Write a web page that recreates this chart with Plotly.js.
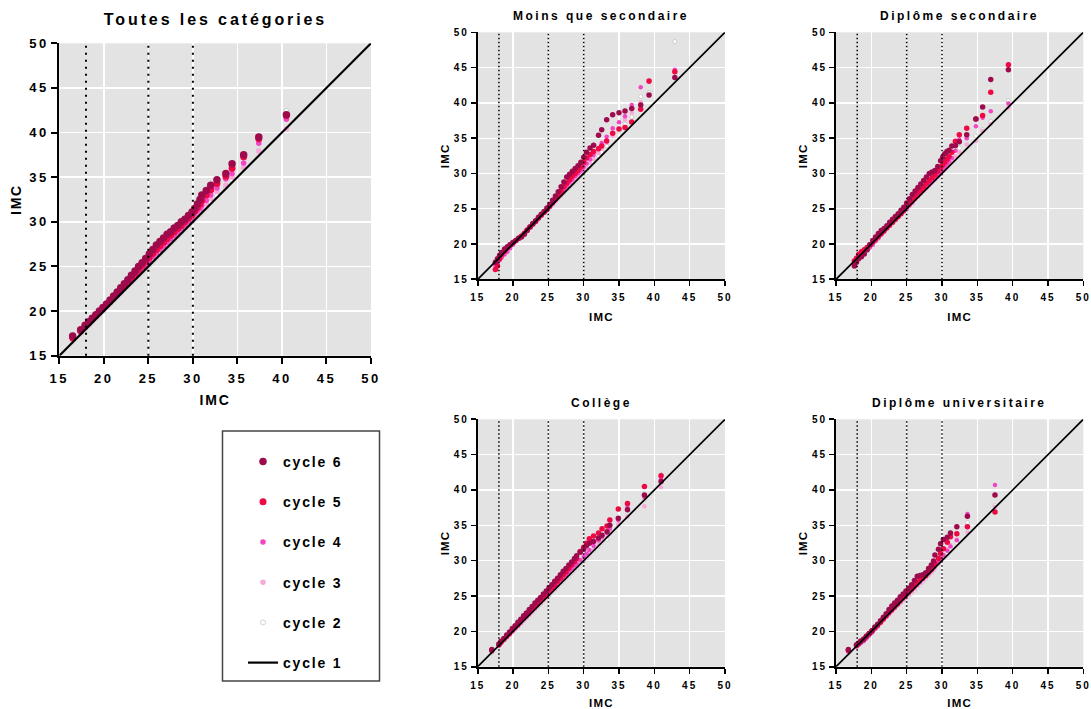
<!DOCTYPE html>
<html>
<head>
<meta charset="utf-8">
<script src="https://cdn.plot.ly/plotly-3.0.1.min.js"></script>
<style>
html, body { margin: 0; padding: 0; background: #ffffff; }
#chart { width: 1091px; height: 709px; }
.xtick text, .ytick text { letter-spacing: 2.5px; }
.x2tick text, .y2tick text, .x3tick text, .y3tick text,
.x4tick text, .y4tick text, .x5tick text, .y5tick text { letter-spacing: 2px; }
text.xtitle, text.ytitle { letter-spacing: 1.8px; }
text.x2title, text.y2title, text.x3title, text.y3title,
text.x4title, text.y4title, text.x5title, text.y5title { letter-spacing: 1.2px; }
text.legendtext { letter-spacing: 1.8px; }
text.annotation-text { letter-spacing: 2.5px; }
g.annotation[data-index="0"] text.annotation-text { letter-spacing: 2.9px; }
</style>
</head>
<body>
<div id="chart"></div>
<script>
// ---------------- data ----------------
const panelTitles = ['Toutes les catégories', 'Moins que secondaire', 'Diplôme secondaire', 'Collège', 'Diplôme universitaire'];
const axisTitle = 'IMC';
const cycleNames = ['cycle 6', 'cycle 5', 'cycle 4', 'cycle 3', 'cycle 2', 'cycle 1'];
const tickVals = [15, 20, 25, 30, 35, 40, 45, 50];
const tickLabels = ['15', '20', '25', '30', '35', '40', '45', '50'];
const cutoffs = [18, 25, 30];
const identityLine = [15, 50];

// Toutes les catégories
const xAll  = [16.5, 17.4, 17.9, 18.3, 18.7, 19.1, 19.5, 19.9, 20.3, 20.7, 21.1, 21.5, 21.9, 22.3, 22.7, 23.1, 23.5, 23.9, 24.3, 24.7, 25.1, 25.5, 25.9, 26.3, 26.7, 27.1, 27.5, 27.9, 28.3, 28.7, 29.1, 29.5, 29.9, 30.2, 30.5, 30.8, 31.0, 31.5, 32.0, 32.7, 33.7, 34.4, 35.7, 37.4, 40.5];
const c6All = [17.2, 17.9, 18.4, 18.8, 19.2, 19.6, 20.0, 20.4, 20.8, 21.25, 21.7, 22.15, 22.6, 23.05, 23.5, 24.0, 24.5, 25.0, 25.4, 25.9, 26.4, 26.9, 27.4, 27.8, 28.2, 28.6, 28.9, 29.3, 29.6, 30.0, 30.3, 30.7, 31.1, 31.5, 32.0, 32.5, 33.0, 33.5, 34.1, 34.7, 35.4, 36.5, 37.5, 39.5, 42.0];
const c5All = [17.0, 17.8, 18.3, 18.7, 19.1, 19.5, 19.9, 20.3, 20.7, 21.1, 21.55, 22.0, 22.4, 22.85, 23.3, 23.75, 24.2, 24.65, 25.1, 25.55, 26.0, 26.45, 26.9, 27.3, 27.7, 28.1, 28.5, 28.9, 29.25, 29.6, 30.0, 30.4, 30.8, 31.2, 31.6, 32.0, 32.4, 33.0, 33.6, 34.3, 35.1, 36.0, 37.3, 39.3, 41.9];
const c4All = [16.9, 17.7, 18.2, 18.6, 19.0, 19.4, 19.8, 20.2, 20.6, 21.0, 21.45, 21.85, 22.25, 22.65, 23.1, 23.5, 23.95, 24.35, 24.8, 25.2, 25.65, 26.1, 26.5, 26.9, 27.3, 27.7, 28.1, 28.5, 28.85, 29.25, 29.65, 30.05, 30.45, 30.9, 31.2, 31.5, 31.8, 32.4, 33.0, 33.8, 34.8, 35.4, 36.6, 38.8, 41.5];
const c3All = [16.8, 17.6, 18.1, 18.5, 18.9, 19.3, 19.7, 20.1, 20.5, 20.9, 21.3, 21.7, 22.1, 22.55, 22.95, 23.35, 23.75, 24.15, 24.55, 24.95, 25.35, 25.8, 26.2, 26.6, 27.0, 27.4, 27.8, 28.2, 28.6, 29.0, 29.4, 29.8, 30.2, 30.6, 30.9, 31.2, 31.4, 32.0, 32.6, 33.4, 34.1, 35.0, 36.1, 37.9, 40.4];
const c2All = [16.6, 17.5, 18.0, 18.4, 18.8, 19.2, 19.6, 20.0, 20.4, 20.8, 21.2, 21.6, 22.0, 22.4, 22.8, 23.2, 23.6, 24.0, 24.4, 24.8, 25.2, 25.6, 26.0, 26.4, 26.8, 27.2, 27.6, 28.0, 28.4, 28.8, 29.2, 29.6, 30.0, 30.3, 30.6, 30.9, 31.1, 31.6, 32.2, 32.9, 33.9, 34.7, 36.0, 38.0, 42.4];

// Moins que secondaire
const xMs  = [17.5, 17.8, 18.1, 18.4, 18.8, 19.2, 19.6, 20.0, 20.4, 20.8, 21.2, 21.6, 22.0, 22.4, 22.8, 23.2, 23.6, 24.0, 24.4, 24.8, 25.2, 25.6, 26.0, 26.4, 26.8, 27.2, 27.6, 28.0, 28.4, 28.8, 29.2, 29.6, 30.0, 30.4, 30.9, 31.4, 32.1, 32.55, 33.25, 34.1, 35.0, 35.85, 36.8, 38.07, 39.25, 42.9];
const c6Ms = [17.4, 17.9, 18.4, 18.8, 19.3, 19.6, 19.9, 20.2, 20.5, 20.8, 21.0, 21.4, 21.9, 22.4, 22.9, 23.3, 23.8, 24.2, 24.6, 25.1, 25.6, 26.2, 26.8, 27.4, 28.1, 28.8, 29.5, 29.9, 30.3, 30.7, 31.1, 31.6, 32.3, 33.0, 33.6, 34.0, 35.4, 36.2, 37.6, 38.3, 38.6, 38.85, 39.2, 39.7, 41.1, 43.6];
const c5Ms = [16.4, 16.9, 17.9, 18.5, 19.0, 19.5, 19.9, 20.2, 20.5, 20.8, 21.1, 21.5, 22.0, 22.4, 22.8, 23.2, 23.7, 24.1, 24.5, 24.9, 25.4, 25.9, 26.4, 26.9, 27.5, 28.1, 28.6, 29.1, 29.6, 30.0, 30.4, 30.9, 31.6, 32.2, 32.7, 33.1, 33.5, 33.9, 34.6, 35.7, 36.3, 36.5, 37.3, 39.1, 43.1, 44.4];
const c4Ms = [17.0, 17.3, 17.7, 18.1, 18.5, 18.9, 19.4, 19.9, 20.4, 20.8, 21.2, 21.6, 22.0, 22.4, 22.8, 23.2, 23.6, 24.0, 24.4, 24.8, 25.2, 25.7, 26.2, 26.7, 27.2, 27.7, 28.2, 28.7, 29.1, 29.6, 30.0, 30.4, 30.9, 31.4, 32.0, 32.6, 33.6, 34.3, 35.2, 36.4, 37.25, 38.1, 39.7, 42.2, 43.0, 44.7];
const c3Ms = [17.2, 17.6, 18.0, 18.3, 18.7, 19.1, 19.5, 20.0, 20.4, 20.8, 21.2, 21.6, 22.0, 22.4, 22.8, 23.2, 23.6, 24.0, 24.4, 24.8, 25.2, 25.6, 26.0, 26.5, 26.9, 27.4, 27.8, 28.3, 28.7, 29.2, 29.6, 30.0, 30.4, 30.9, 31.5, 32.0, 32.9, 33.5, 34.3, 35.3, 36.4, 37.6, 38.6, 40.1, 41.0, 44.4];
const c2Ms = [17.6, 17.9, 18.2, 18.5, 18.9, 19.3, 19.7, 20.1, 20.5, 20.9, 21.3, 21.7, 22.1, 22.5, 22.9, 23.3, 23.7, 24.1, 24.5, 24.9, 25.3, 25.7, 26.1, 26.5, 26.9, 27.3, 27.7, 28.1, 28.5, 28.9, 29.3, 29.7, 30.1, 30.5, 31.0, 31.6, 32.4, 33.0, 33.9, 35.4, 36.0, 37.0, 38.0, 40.9, 41.5, 48.7];

// Diplôme secondaire
const xDs  = [17.6, 17.9, 18.2, 18.6, 19.0, 19.4, 19.8, 20.2, 20.6, 21.0, 21.4, 21.8, 22.2, 22.6, 23.0, 23.4, 23.8, 24.2, 24.6, 25.0, 25.4, 25.8, 26.2, 26.6, 27.0, 27.4, 27.8, 28.2, 28.6, 29.0, 29.4, 29.8, 30.1, 30.4, 30.7, 31.0, 31.4, 31.9, 32.45, 33.5, 34.8, 35.75, 36.9, 39.4];
const c6Ds = [16.9, 17.4, 17.9, 18.2, 18.6, 19.2, 19.9, 20.5, 21.0, 21.5, 21.9, 22.2, 22.6, 23.1, 23.5, 23.9, 24.3, 24.8, 25.2, 25.8, 26.4, 27.0, 27.5, 28.0, 28.5, 29.0, 29.5, 30.0, 30.2, 30.4, 31.0, 31.8, 32.3, 32.8, 33.1, 33.3, 33.9, 33.95, 34.5, 35.5, 37.7, 39.4, 43.3, 44.7];
const c5Ds = [17.6, 18.0, 18.5, 18.9, 19.2, 19.5, 19.9, 20.3, 20.7, 21.1, 21.5, 21.9, 22.3, 22.7, 23.1, 23.5, 23.9, 24.3, 24.8, 25.3, 25.8, 26.3, 26.8, 27.3, 27.7, 28.1, 28.6, 29.0, 29.4, 29.8, 30.3, 30.8, 31.2, 31.6, 32.0, 32.4, 33.0, 34.55, 35.5, 36.4, 37.7, 38.2, 41.5, 45.4];
const c4Ds = [17.4, 17.7, 18.0, 18.4, 18.7, 19.1, 19.5, 19.9, 20.4, 20.8, 21.3, 21.7, 22.2, 22.6, 23.0, 23.4, 23.8, 24.2, 24.6, 25.0, 25.5, 25.9, 26.4, 26.8, 27.3, 27.7, 28.1, 28.5, 28.9, 29.3, 29.7, 30.1, 30.5, 30.9, 31.3, 31.7, 32.2, 33.2, 34.8, 35.0, 36.7, 37.9, 38.8, 39.9];
const c3Ds = [17.6, 17.9, 18.2, 18.6, 19.0, 19.4, 19.8, 20.2, 20.6, 21.0, 21.4, 21.8, 22.2, 22.6, 23.0, 23.4, 23.8, 24.2, 24.6, 25.0, 25.4, 25.8, 26.3, 26.7, 27.1, 27.5, 27.9, 28.3, 28.7, 29.1, 29.5, 29.9, 30.3, 30.6, 31.0, 31.4, 31.8, 32.4, 33.0, 34.1, 34.6, 36.0, 37.0, 39.3];
const c2Ds = [17.7, 18.0, 18.3, 18.7, 19.1, 19.5, 19.9, 20.3, 20.7, 21.1, 21.5, 21.9, 22.3, 22.7, 23.1, 23.5, 23.9, 24.3, 24.7, 25.1, 25.5, 25.9, 26.4, 26.8, 27.2, 27.6, 28.0, 28.4, 28.8, 29.2, 29.6, 30.0, 30.4, 30.8, 31.2, 31.6, 32.2, 32.9, 33.6, 35.0, 35.3, 36.2, 37.4, 40.3];

// Collège
const xCo  = [17.0, 18.0, 18.3, 18.7, 19.1, 19.5, 19.9, 20.3, 20.7, 21.1, 21.5, 21.9, 22.3, 22.7, 23.1, 23.5, 23.9, 24.3, 24.7, 25.1, 25.5, 25.9, 26.3, 26.7, 27.1, 27.5, 27.9, 28.3, 28.7, 29.0, 29.5, 30.0, 30.4, 30.8, 31.4, 32.1, 32.6, 33.3, 33.7, 34.9, 36.2, 38.6, 40.95];
const c6Co = [17.45, 18.2, 18.6, 19.0, 19.5, 19.9, 20.4, 20.8, 21.3, 21.7, 22.2, 22.6, 23.1, 23.5, 24.0, 24.4, 24.8, 25.3, 25.7, 26.2, 26.6, 27.1, 27.5, 28.0, 28.5, 28.9, 29.4, 29.8, 30.3, 30.7, 31.2, 31.6, 32.1, 32.45, 32.7, 33.2, 33.6, 34.1, 35.0, 36.0, 37.2, 39.3, 41.2];
const c5Co = [17.3, 18.1, 18.5, 18.9, 19.3, 19.7, 20.2, 20.6, 21.0, 21.5, 21.9, 22.3, 22.8, 23.2, 23.6, 24.0, 24.5, 24.9, 25.3, 25.8, 26.2, 26.6, 27.1, 27.5, 28.0, 28.4, 28.9, 29.4, 29.9, 30.3, 31.3, 31.9, 32.45, 33.1, 33.5, 33.9, 34.5, 34.9, 35.75, 37.3, 38.1, 40.5, 42.0];
const c4Co = [17.2, 18.0, 18.4, 18.8, 19.2, 19.6, 20.0, 20.4, 20.8, 21.2, 21.7, 22.1, 22.5, 22.9, 23.3, 23.8, 24.2, 24.6, 25.0, 25.5, 25.9, 26.3, 26.7, 27.2, 27.6, 28.0, 28.4, 28.9, 29.3, 29.6, 30.1, 30.6, 31.0, 31.5, 32.1, 32.9, 33.4, 34.0, 34.5, 35.75, 37.6, 39.0, 41.5];
const c3Co = [17.1, 18.0, 18.3, 18.7, 19.1, 19.5, 19.9, 20.3, 20.7, 21.1, 21.5, 21.9, 22.3, 22.8, 23.2, 23.6, 24.0, 24.4, 24.8, 25.2, 25.6, 26.0, 26.5, 26.9, 27.3, 27.7, 28.1, 28.5, 28.9, 29.2, 29.7, 30.2, 30.6, 31.0, 31.6, 32.4, 32.9, 33.5, 34.0, 35.2, 36.2, 37.7, 40.4];
const c2Co = [17.0, 18.0, 18.3, 18.7, 19.1, 19.5, 19.9, 20.3, 20.7, 21.1, 21.5, 21.9, 22.3, 22.7, 23.1, 23.5, 23.9, 24.3, 24.7, 25.1, 25.5, 25.9, 26.3, 26.7, 27.1, 27.5, 27.9, 28.3, 28.7, 29.0, 29.5, 30.0, 30.4, 30.8, 31.4, 32.1, 32.6, 33.0, 33.8, 35.0, 36.3, 38.6, 42.2];

// Diplôme universitaire
const xDu  = [16.75, 17.9, 18.2, 18.5, 18.9, 19.3, 19.7, 20.1, 20.5, 20.9, 21.3, 21.7, 22.1, 22.5, 22.9, 23.3, 23.7, 24.1, 24.5, 24.9, 25.3, 25.7, 26.1, 26.5, 26.9, 27.3, 27.7, 28.1, 28.5, 28.8, 29.0, 29.5, 29.8, 30.2, 30.75, 31.2, 32.1, 33.6, 37.5];
const c6Du = [17.45, 18.1, 18.3, 18.6, 18.9, 19.3, 19.7, 20.1, 20.6, 21.0, 21.5, 22.0, 22.5, 23.1, 23.6, 24.0, 24.4, 24.9, 25.3, 25.7, 26.1, 26.6, 27.2, 27.8, 27.9, 28.0, 28.3, 28.9, 29.4, 29.95, 30.8, 31.6, 32.4, 33.0, 33.3, 33.9, 34.8, 36.3, 39.3];
const c5Du = [17.3, 18.0, 18.3, 18.6, 18.9, 19.3, 19.7, 20.1, 20.5, 20.9, 21.3, 21.8, 22.2, 22.7, 23.1, 23.5, 23.9, 24.4, 24.8, 25.2, 25.6, 26.0, 26.5, 26.9, 27.4, 27.6, 27.9, 28.4, 28.8, 29.2, 29.6, 30.3, 31.0, 31.7, 32.6, 33.4, 33.8, 34.8, 36.9];
const c4Du = [17.2, 17.9, 18.1, 18.3, 18.6, 19.0, 19.4, 19.8, 20.3, 20.7, 21.2, 21.6, 22.1, 22.5, 22.9, 23.3, 23.8, 24.2, 24.6, 25.0, 25.4, 25.8, 26.2, 26.6, 27.0, 27.4, 27.8, 28.2, 28.6, 29.0, 29.3, 29.9, 30.3, 30.8, 31.4, 32.0, 32.9, 36.6, 40.7];
const c3Du = [17.0, 17.8, 18.1, 18.4, 18.8, 19.2, 19.6, 20.0, 20.4, 20.8, 21.2, 21.6, 22.0, 22.4, 22.8, 23.2, 23.6, 24.0, 24.4, 24.8, 25.2, 25.6, 26.0, 26.4, 26.8, 27.2, 27.6, 28.0, 28.4, 28.7, 29.0, 29.6, 30.0, 30.6, 31.6, 32.2, 33.0, 34.0, 37.6];
const c2Du = [16.9, 17.9, 18.2, 18.5, 18.9, 19.3, 19.7, 20.1, 20.5, 20.9, 21.3, 21.7, 22.1, 22.5, 22.9, 23.3, 23.7, 24.0, 24.3, 24.7, 25.0, 25.4, 25.8, 26.2, 26.6, 27.0, 27.4, 27.9, 28.3, 28.7, 29.0, 29.6, 30.0, 30.5, 31.1, 31.7, 32.5, 35.4, 37.8];

// ---------------- figure ----------------
const FONT = "'Liberation Sans', Arial, sans-serif";
const W = 1091, H = 709;
const cycleColors = ['#9e0b4d', '#ee0844', '#f244c4', '#f9a8da', '#ffffff'];

const panels = [
  { x: xAll, ys: [c6All, c5All, c4All, c3All, c2All] },
  { x: xMs,  ys: [c6Ms, c5Ms, c4Ms, c3Ms, c2Ms] },
  { x: xDs,  ys: [c6Ds, c5Ds, c4Ds, c3Ds, c2Ds] },
  { x: xCo,  ys: [c6Co, c5Co, c4Co, c3Co, c2Co] },
  { x: xDu,  ys: [c6Du, c5Du, c4Du, c3Du, c2Du] }
];
// plot areas in pixels: left, right, top, bottom
const boxes = [
  [59.3, 371, 43.3, 355.7],
  [477.7, 725, 32.3, 279.3],
  [836, 1083.3, 32.3, 279.3],
  [477.7, 725, 419.3, 666.7],
  [836, 1083.3, 419.3, 666.7]
];
const titleY = [20, 16, 16, 403, 403];

const traces = [];
const layout = {
  width: W, height: H,
  margin: { l: 0, r: 0, t: 0, b: 0, pad: 0 },
  paper_bgcolor: '#ffffff',
  plot_bgcolor: '#e3e3e3',
  font: { family: FONT, color: '#000' },
  showlegend: true,
  legend: {
    x: 243 / W, y: 1 - 446 / H, xanchor: 'left', yanchor: 'top',
    bgcolor: 'rgba(0,0,0,0)', borderwidth: 0,
    font: { family: FONT, size: 14, color: '#000', weight: 'bold' },
    traceorder: 'grouped', tracegroupgap: 19
  },
  shapes: [],
  annotations: []
};

panels.forEach((p, i) => {
  const s = i === 0 ? '' : String(i + 1);
  const big = i === 0;
  const sizes = big ? [7.5, 7, 5.5, 5.5, 5] : [5.5, 5.5, 4.5, 4.5, 4];
  for (let k = 4; k >= 0; k--) {
    traces.push({
      type: 'scatter', mode: 'markers',
      x: p.x, y: p.ys[k],
      xaxis: 'x' + s, yaxis: 'y' + s,
      name: cycleNames[k],
      legendgroup: 'g' + k, legendrank: k + 1,
      showlegend: big,
      marker: {
        color: cycleColors[k], size: sizes[k],
        line: k === 4 ? { color: '#c4c4c4', width: 0.8 } : { width: 0 }
      },
      hoverinfo: 'skip'
    });
  }
  traces.push({
    type: 'scatter', mode: 'lines',
    x: identityLine, y: identityLine,
    xaxis: 'x' + s, yaxis: 'y' + s,
    name: cycleNames[5], legendgroup: 'g5', legendrank: 6,
    showlegend: big,
    line: { color: '#000', width: big ? 2.2 : 1.7 },
    hoverinfo: 'skip'
  });

  const b = boxes[i];
  const common = {
    range: [15, 50], tickmode: 'array', tickvals: tickVals, ticktext: tickLabels,
    showgrid: true, gridcolor: '#ffffff', gridwidth: big ? 1.6 : 1.3,
    showline: true, linecolor: '#000', linewidth: big ? 2 : 1.8,
    ticks: 'outside', ticklen: big ? 6 : 5, tickwidth: big ? 2 : 1.6, tickcolor: '#000',
    zeroline: false, fixedrange: true,
    tickfont: { family: FONT, size: big ? 13 : 10, color: '#000', weight: 'bold' }
  };
  layout['xaxis' + s] = Object.assign({}, common, {
    domain: [b[0] / W, b[1] / W], anchor: 'y' + s,
    ticklabelstandoff: big ? 4 : 3,
    title: { text: axisTitle, font: { family: FONT, size: big ? 14 : 11.5, color: '#000', weight: 'bold' }, standoff: big ? 10 : 11 }
  });
  layout['yaxis' + s] = Object.assign({}, common, {
    domain: [1 - b[3] / H, 1 - b[2] / H], anchor: 'x' + s,
    title: { text: axisTitle, font: { family: FONT, size: big ? 14 : 11.5, color: '#000', weight: 'bold' }, standoff: big ? 4 : 2 }
  });

  cutoffs.forEach(c => {
    layout.shapes.push({
      type: 'line', xref: 'x' + s, yref: 'y' + s + ' domain',
      x0: c, x1: c, y0: 0, y1: 1, layer: 'above',
      line: { color: '#000', width: big ? 2 : 1.5, dash: big ? '2px,5px' : '1.5px,2.5px' }
    });
  });

  layout.annotations.push({
    text: panelTitles[i], showarrow: false,
    xref: 'x' + s + ' domain', x: 0.5, xanchor: 'center',
    yref: 'paper', y: 1 - titleY[i] / H, yanchor: 'middle',
    font: { family: FONT, size: big ? 16 : 12, color: '#000', weight: 'bold' }
  });
});

// legend frame
layout.shapes.push({
  type: 'rect', xref: 'paper', yref: 'paper',
  x0: 222.5 / W, x1: 379.5 / W, y0: 1 - 681 / H, y1: 1 - 431 / H,
  line: { color: '#444', width: 1.5 }, fillcolor: 'rgba(0,0,0,0)', layer: 'above'
});

Plotly.newPlot('chart', traces, layout, { staticPlot: true, displayModeBar: false });
</script>
</body>
</html>
